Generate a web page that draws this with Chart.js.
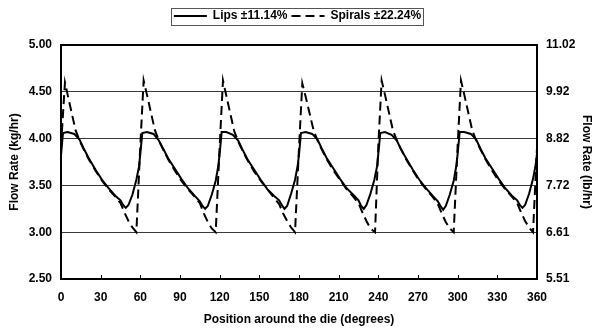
<!DOCTYPE html>
<html lang="en">
<head>
    <meta charset="UTF-8">
    <title>Flow Rate around the die</title>
    <script src="https://cdn.jsdelivr.net/npm/chart.js@4.4.1/dist/chart.umd.min.js"></script>
    <style>
        html, body { margin: 0; padding: 0; background: #fff; }
        #wrap { width: 595px; height: 329px; position: relative; }
    </style>
</head>
<body>
    <div id="wrap"><canvas id="flowChart"></canvas></div>

    <script>
        // Lips (solid) - position in degrees and flow rate in kg/hr
        const lipsDeg = [
            0, 1.5, 5, 10, 14, 17, 21, 26, 31, 36, 41, 45, 47, 49, 51, 54, 57, 59,
            60, 61.5, 65, 70, 74, 77, 81, 86, 91, 96, 101, 105, 107, 109, 111, 114, 117, 119,
            120, 121.5, 125, 130, 134, 137, 141, 146, 151, 156, 161, 165, 167, 169, 171, 174, 177, 179,
            180, 181.5, 185, 190, 194, 197, 201, 206, 211, 216, 221, 225, 227, 229, 231, 234, 237, 239,
            240, 241.5, 245, 250, 254, 257, 261, 266, 271, 276, 281, 285, 287, 289, 291, 294, 297, 299,
            300, 301.5, 305, 310, 314, 317, 321, 326, 331, 336, 341, 345, 347, 349, 351, 354, 357, 359,
            360
        ];
        const lipsFlow = [
            3.82, 4.06, 4.07, 4.05, 3.99, 3.90, 3.79, 3.67, 3.56, 3.47, 3.39, 3.34, 3.29, 3.26, 3.29, 3.40, 3.56, 3.70,
            3.84, 4.06, 4.07, 4.05, 3.98, 3.90, 3.79, 3.68, 3.57, 3.47, 3.39, 3.33, 3.28, 3.25, 3.28, 3.40, 3.55, 3.71,
            3.84, 4.07, 4.07, 4.04, 3.98, 3.89, 3.78, 3.67, 3.56, 3.46, 3.39, 3.34, 3.29, 3.25, 3.28, 3.41, 3.56, 3.71,
            3.83, 4.06, 4.07, 4.05, 3.99, 3.90, 3.79, 3.68, 3.57, 3.47, 3.40, 3.34, 3.28, 3.25, 3.29, 3.41, 3.56, 3.70,
            3.84, 4.06, 4.07, 4.04, 3.98, 3.89, 3.79, 3.67, 3.56, 3.47, 3.39, 3.33, 3.28, 3.24, 3.28, 3.40, 3.55, 3.71,
            3.84, 4.07, 4.07, 4.05, 3.99, 3.90, 3.79, 3.68, 3.57, 3.47, 3.39, 3.34, 3.29, 3.26, 3.29, 3.41, 3.57, 3.72,
            3.84
        ];

        // Spirals (dashed)
        const spiralDeg = [
            0, 3, 5, 8, 11, 14, 17, 21, 26, 31, 36, 41, 45, 48, 51, 54, 57,
            60, 62.5, 65, 68, 71, 74, 77, 81, 86, 91, 96, 101, 105, 108, 111, 114, 117,
            120, 122.5, 125, 128, 131, 134, 137, 141, 146, 151, 156, 161, 165, 168, 171, 174, 177,
            180, 182.5, 185, 188, 191, 194, 197, 201, 206, 211, 216, 221, 225, 228, 231, 234, 237.5,
            240, 242.5, 245, 248, 251, 254, 257, 261, 266, 271, 276, 281, 285, 288, 291, 294, 297,
            300, 302.5, 305, 308, 311, 314, 317, 321, 326, 331, 336, 341, 345, 348, 351, 354, 357,
            360
        ];
        const spiralFlow = [
            3.92, 4.60, 4.47, 4.28, 4.09, 3.98, 3.89, 3.78, 3.66, 3.55, 3.46, 3.38, 3.31, 3.21, 3.12, 3.05, 3.00,
            3.93, 4.62, 4.47, 4.28, 4.09, 3.98, 3.89, 3.78, 3.66, 3.55, 3.46, 3.38, 3.31, 3.20, 3.11, 3.04, 3.00,
            3.92, 4.62, 4.46, 4.27, 4.08, 3.97, 3.88, 3.77, 3.65, 3.55, 3.46, 3.37, 3.30, 3.20, 3.12, 3.05, 3.00,
            3.90, 4.59, 4.45, 4.27, 4.09, 3.98, 3.89, 3.78, 3.66, 3.56, 3.46, 3.38, 3.31, 3.21, 3.12, 3.04, 3.00,
            3.93, 4.62, 4.47, 4.28, 4.09, 3.98, 3.89, 3.78, 3.66, 3.55, 3.46, 3.38, 3.30, 3.20, 3.11, 3.04, 3.00,
            3.93, 4.62, 4.47, 4.28, 4.09, 3.98, 3.89, 3.78, 3.66, 3.55, 3.46, 3.38, 3.31, 3.21, 3.12, 3.05, 3.00,
            3.90
        ];

        const leftTicks = ['2.50', '3.00', '3.50', '4.00', '4.50', '5.00'];
        const rightTicks = ['5.51', '6.61', '7.72', '8.82', '9.92', '11.02'];

        Chart.defaults.font.family = '"Liberation Sans", Arial, sans-serif';
        Chart.defaults.font.size = 12;
        Chart.defaults.font.weight = 'bold';
        Chart.defaults.color = '#000';

        // frame around the plot, inward ticks on x axis, box around legend
        const framePlugin = {
            id: 'frame',
            beforeLayout(chart) {
                const lg = chart.legend;
                if (lg && !lg._tall) {
                    const fit = lg.fit;
                    lg.fit = function () { fit.call(this); this.height += 13; };
                    lg._tall = true;
                }
            },
            afterDraw(chart) {
                const { ctx, chartArea: a, scales } = chart;
                ctx.save();
                ctx.strokeStyle = '#000';
                ctx.lineWidth = 1;
                scales.x.ticks.forEach(t => {
                    const px = Math.round(scales.x.getPixelForValue(t.value)) + 0.5;
                    ctx.beginPath();
                    ctx.moveTo(px, a.bottom);
                    ctx.lineTo(px, a.bottom - 4);
                    ctx.stroke();
                });
                ctx.lineWidth = 2;
                ctx.strokeRect(Math.round(a.left), Math.round(a.top), Math.round(a.right - a.left), Math.round(a.bottom - a.top));

                const hb = chart.legend.legendHitBoxes;
                if (hb && hb.length) {
                    const first = hb[0], last = hb[hb.length - 1];
                    ctx.lineWidth = 1;
                    ctx.strokeStyle = '#555';
                    const x0 = Math.round(first.left - 3) + 0.5;
                    const x1 = Math.round(last.left + last.width + 2) + 0.5;
                    const y0 = Math.round(first.top - 2) + 0.5;
                    const y1 = Math.round(first.top + first.height + 3) + 0.5;
                    ctx.strokeRect(x0, y0, x1 - x0, y1 - y0);
                }
                ctx.restore();
            }
        };

        const ctx = document.getElementById('flowChart').getContext('2d');
        new Chart(ctx, {
            type: 'line',
            data: {
                datasets: [{
                    label: 'Lips \u00b111.14%',
                    data: lipsDeg.map((d, i) => ({ x: d, y: lipsFlow[i] })),
                    borderColor: '#000',
                    borderWidth: 2,
                    pointRadius: 0,
                    tension: 0,
                    yAxisID: 'y'
                }, {
                    label: 'Spirals \u00b122.24%',
                    data: spiralDeg.map((d, i) => ({ x: d, y: spiralFlow[i] })),
                    borderColor: '#000',
                    borderWidth: 2,
                    borderDash: [9, 5],
                    pointRadius: 0,
                    tension: 0,
                    yAxisID: 'y'
                }]
            },
            options: {
                responsive: true,
                maintainAspectRatio: false,
                animation: false,
                layout: { padding: { top: 6, left: 0, right: 0, bottom: 0 } },
                plugins: {
                    legend: {
                        position: 'top',
                        labels: {
                            usePointStyle: true,
                            pointStyle: 'line',
                            pointStyleWidth: 33,
                            padding: 4,
                            color: '#000',
                            font: { size: 12, weight: 'bold' },
                            generateLabels(chart) {
                                const items = Chart.defaults.plugins.legend.labels.generateLabels(chart);
                                items.forEach(it => {
                                    it.lineDash = chart.data.datasets[it.datasetIndex].borderDash || [];
                                    it.lineWidth = 2;
                                });
                                return items;
                            }
                        }
                    },
                    tooltip: { enabled: false }
                },
                scales: {
                    x: {
                        type: 'linear',
                        min: 0,
                        max: 360,
                        afterFit: s => { s.height = 50; },
                        ticks: { stepSize: 30, padding: 11 },
                        grid: { drawOnChartArea: false, drawTicks: false },
                        border: { display: false },
                        title: {
                            display: true,
                            text: 'Position around the die (degrees)',
                            padding: { top: 0, bottom: 2 }
                        }
                    },
                    y: {
                        position: 'left',
                        min: 2.5,
                        max: 5,
                        afterFit: s => { s.width = 61; },
                        ticks: {
                            stepSize: 0.5,
                            padding: 9,
                            callback: (v, i) => leftTicks[i]
                        },
                        grid: { color: '#3a3a3a', lineWidth: 1, drawTicks: false },
                        border: { display: false },
                        title: {
                            display: true,
                            text: 'Flow Rate (kg/hr)',
                            padding: { top: 7, bottom: 0 }
                        }
                    },
                    y2: {
                        position: 'right',
                        min: 2.5,
                        max: 5,
                        afterFit: s => { s.width = 58; },
                        ticks: {
                            stepSize: 0.5,
                            padding: 9,
                            callback: (v, i) => rightTicks[i]
                        },
                        grid: { drawOnChartArea: false, drawTicks: false },
                        border: { display: false },
                        title: {
                            display: true,
                            text: 'Flow Rate (lb/hr)',
                            padding: { top: 1, bottom: 0 }
                        }
                    }
                }
            },
            plugins: [framePlugin]
        });
    </script>
</body>
</html>
